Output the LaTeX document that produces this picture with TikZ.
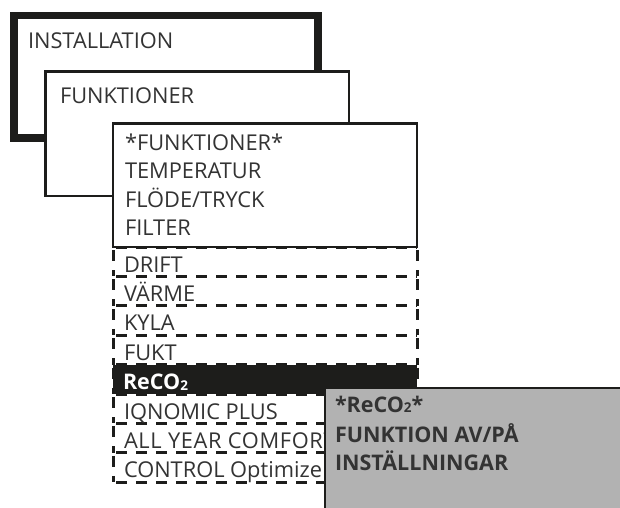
\documentclass[tikz,border=0pt]{standalone}
\usepackage{fontspec}
\setmainfont{Open Sans}
\definecolor{ink}{HTML}{1D1D1B}
\definecolor{txt}{HTML}{333333}
\definecolor{panelgray}{HTML}{B2B2B2}
\newcommand{\cotwo}{CO\raisebox{-0.8pt}{\fontsize{13.5}{13.5}\selectfont 2}}
\begin{document}
\begin{tikzpicture}[x=1pt,y=-1pt,
  box/.style={draw=ink, fill=white, line width=2.2pt, rectangle, inner sep=0pt, outer sep=0pt, anchor=north west},
  lbl/.style={anchor=base west, inner sep=0pt, outer sep=0pt, text=txt, font=\fontsize{21.8}{25}\selectfont},
  blbl/.style={lbl, font=\fontsize{21.5}{25}\selectfont\bfseries},
  rowbox/.style={fill=white, rectangle, anchor=north west, inner sep=0pt, outer sep=0pt, minimum width=304pt, minimum height=29.4pt},
  dashline/.style={draw=ink, dash pattern=on 11pt off 9pt, dash phase=-3pt, line width=3pt},
]
\useasboundingbox (0,0) rectangle (620,507);
\fill[white] (0,0) rectangle (620,507);

% INSTALLATION box
\node[box, line width=7.5pt, minimum width=304pt, minimum height=122.5pt] (inst) at (14,15.5) {};
\node[lbl] (instt) at (28,48) {INSTALLATION};

% FUNKTIONER box
\node[box, minimum width=303.5pt, minimum height=124.5pt] (funk) at (45.5,71.5) {};
\node[lbl] (funkt) at (60,103) {FUNKTIONER};

% dashed rows (backgrounds)
\node[rowbox] (r1) at (113,247) {};
\node[rowbox] (r2) at (113,276.4) {};
\node[rowbox] (r3) at (113,305.8) {};
\node[rowbox] (r4) at (113,335.2) {};
\node[rowbox, fill=ink] (r5) at (113,364.6) {};
\node[rowbox] (r6) at (113,394) {};
\node[rowbox] (r7) at (113,423.4) {};
\node[rowbox] (r8) at (113,452.8) {};

% dashed borders, each drawn once
\foreach \r in {r1,r2,r3,r4,r5,r6,r7,r8}{
  \draw[dashline] (\r.north west) -- (\r.north east);
  \draw[dashline] (\r.north west) -- (\r.south west);
  \draw[dashline] (\r.north east) -- (\r.south east);
}
\draw[dashline] (r8.south west) -- (r8.south east);

% third box
\node[box, minimum width=304pt, minimum height=123.5pt] (fbox) at (113,123.5) {};
\node[lbl] (f1) at (125,150) {*FUNKTIONER*};
\node[lbl] (f2) at (125,178) {TEMPERATUR};
\node[lbl] (f3) at (125,207) {FLÖDE/TRYCK};
\node[lbl] (f4) at (125,235) {FILTER};

\node[lbl] (t1) at (124,272) {DRIFT};
\node[lbl] (t2) at (124,301.4) {VÄRME};
\node[lbl] (t3) at (124,330.8) {KYLA};
\node[lbl] (t4) at (124,360.2) {FUKT};
\node[blbl, text=white] (t5) at (123,389.6) {Re\cotwo};
\node[lbl] (t6) at (124,419) {IQNOMIC PLUS};
\node[lbl] (t7) at (124,448.4) {\addfontfeature{LetterSpace=3}ALL YEAR COMFORT};
\node[lbl] (t8) at (124,477.8) {CONTROL Optimize};

% gray panel
\node[rectangle, fill=panelgray, inner sep=0pt, outer sep=0pt, anchor=north west, minimum width=300pt, minimum height=124pt] (panel) at (325,388) {};
\draw[ink, line width=2.6pt] (panel.north east) -- (panel.north west) -- (panel.south west);
\node[blbl] (p1) at (335,412) {*Re\cotwo*};
\node[blbl] (p2) at (335,442) {FUNKTION AV/PÅ};
\node[blbl] (p3) at (335,470) {INSTÄLLNINGAR};
\end{tikzpicture}
\end{document}
